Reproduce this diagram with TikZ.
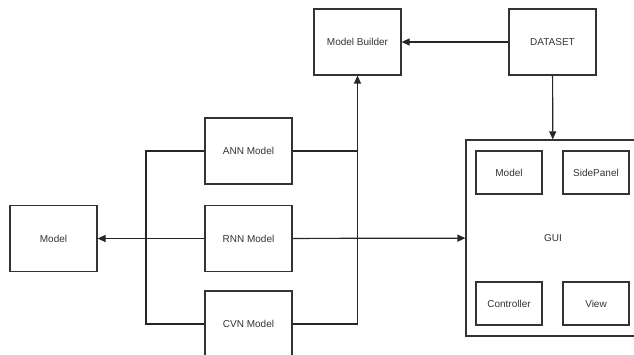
\documentclass[tikz,border=0pt]{standalone}
\usepackage{fontspec}
\setmainfont{Liberation Sans}
\usepackage{tikz}
\usetikzlibrary{arrows.meta,calc,positioning}

\tikzset{
  blk/.style={draw=black!80,line width=1.2pt,text=black!80,font=\fontsize{10}{12}\selectfont,
              minimum width=87pt,minimum height=66pt,inner sep=0pt},
  sub/.style={blk,minimum width=66pt,minimum height=43pt},
  wire/.style={draw=black!85,line width=1.2pt},
  arr/.style={wire,-{Triangle[length=8pt,width=7pt]}}
}

\begin{document}
\begin{tikzpicture}[x=1pt,y=-1pt]
  \useasboundingbox (0,0) rectangle (634,355);
  % top row
  \node[blk] (builder) at (357.5,42) {Model Builder};
  \node[blk] (dataset) at (552.5,42) {DATASET};
  % model variants
  \node[blk] (ann) at (248.5,151) {ANN Model};
  \node[blk] (rnn) at (248.5,238.5) {RNN Model};
  \node[blk] (cvn) at (248.5,324) {CVN Model};
  \node[blk] (model) at (53.5,238.5) {Model};
  % gui and its parts
  \node[blk,minimum width=174pt,minimum height=196pt] (gui) at (553,238) {GUI};
  \node[sub] (gmodel) at (509,172.5) {Model};
  \node[sub] (side) at (596,172.5) {SidePanel};
  \node[sub] (ctrl) at (509,303.5) {Controller};
  \node[sub] (view) at (596,303.5) {View};
  \coordinate (busL) at (146,0);
  % connectors
  \draw[arr] (dataset) -- (builder);
  \draw[arr] (dataset) -- (gui);
  \draw[wire] (ann.west) -- (ann.west -| busL) -- (cvn.west -| busL) -- (cvn.west);
  \draw[wire] (ann.east) -- (ann.east -| builder.south);
  \draw[arr] (cvn.east) -| (builder.south);
  \draw[arr] (rnn) -- (model);
  \draw[arr] (rnn) -- (gui);
\end{tikzpicture}
\end{document}
